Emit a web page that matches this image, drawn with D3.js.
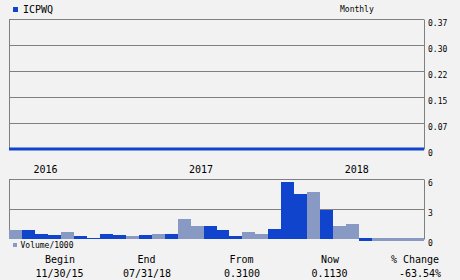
<!DOCTYPE html>
<html>
<head>
<meta charset="utf-8">
<script src="https://cdn.jsdelivr.net/npm/d3@7"></script>
<style>
  body { margin: 0; background: #f2f2f2; }
  svg { display: block; font-family: "DejaVu Sans Mono", monospace; }
</style>
</head>
<body>
<script>
// monthly data, Nov 2015 .. Jun 2018
let months = ['2015-11','2015-12','2016-01','2016-02','2016-03','2016-04','2016-05','2016-06',
              '2016-07','2016-08','2016-09','2016-10','2016-11','2016-12','2017-01','2017-02',
              '2017-03','2017-04','2017-05','2017-06','2017-07','2017-08','2017-09','2017-10',
              '2017-11','2017-12','2018-01','2018-02','2018-03','2018-04','2018-05','2018-06'];
let prices = [0,0,0,0,0,0,0,0, 0,0,0,0,0,0,0,0, 0,0,0,0,0,0,0,0, 0,0,0,0,0,0,0,0];
let volumes = [0.9,0.9,0.5,0.4,0.7,0.3,0.1,0.5, 0.4,0.3,0.4,0.5,0.5,2.0,1.3,1.3,
               0.9,0.3,0.7,0.5,1.0,5.7,4.5,4.7, 2.9,1.3,1.5,0,0,0,0,0];
// 'up' = light bar, 'down' = dark bar
let direction = ['up','down','down','down','up','down','down','down',
                 'down','up','down','up','down','up','up','down',
                 'down','down','up','up','down','down','down','up',
                 'down','up','up','down','up','up','up','up'];

let priceTicks = [0, 0.074, 0.148, 0.222, 0.296, 0.37];
let priceTickLabels = ['0', '0.07', '0.15', '0.22', '0.30', '0.37'];
let volTicks = [0, 3, 6];
let volTickLabels = ['0', '3', '6'];
let yearLabels = ['2016', '2017', '2018'];
let yearMonths = ['2016-01', '2017-01', '2018-01'];

let ticker = 'ICPWQ';
let footerLabels = ['Begin', 'End', 'From', 'Now', '% Change'];
let footerValues = ['11/30/15', '07/31/18', '0.3100', '0.1130', '-63.54%'];

let dark = '#1144cc';
let light = '#8899c4';
let gridColor = '#808080';
let font = '"DejaVu Sans Mono", monospace';

let width = 460, height = 280;
let left = 9, right = 424;

let svg = d3.select('body').append('svg')
    .attr('width', width)
    .attr('height', height);

let xBand = d3.scaleBand().domain(months).range([left, right]).padding(0);
let xLine = d3.scaleLinear().domain([0, months.length - 1]).range([left, right]);

let yPrice = d3.scaleLinear().domain([0, 0.37]).range([149, 19]);
let yVol = d3.scaleLinear().domain([0, 6]).range([239, 179]);

// title
svg.append('rect').attr('x', 13).attr('y', 7).attr('width', 5).attr('height', 5).attr('fill', dark);
svg.append('text').attr('x', 23).attr('y', 13).attr('font-size', 10).text(ticker);
svg.append('text').attr('x', 340).attr('y', 12).attr('font-size', 8).text('Monthly');

//price panel axis + grid
let priceAxis = d3.axisRight(yPrice)
    .tickValues(priceTicks)
    .tickFormat((d, i) => priceTickLabels[i])
    .tickSizeInner(-(right - left))
    .tickSizeOuter(0)
    .tickPadding(4);

let pg = svg.append('g')
    .attr('transform', `translate(${right},0)`)
    .call(priceAxis);
pg.selectAll('line').attr('stroke', gridColor);
pg.select('.domain').attr('stroke', gridColor);
pg.selectAll('text').attr('font-size', 8).attr('font-family', font)
    .attr('dy', '0.75em').attr('fill', '#000');

svg.append('line')
    .attr('x1', left + 0.5).attr('x2', left + 0.5)
    .attr('y1', yPrice(0.37)).attr('y2', yPrice(0))
    .attr('stroke', gridColor);

// price line
let line = d3.line()
    .x((d, i) => xLine(i))
    .y(d => yPrice(d));
svg.append('path')
    .datum(prices)
    .attr('d', line)
    .attr('fill', 'none')
    .attr('stroke', dark)
    .attr('stroke-width', 3);

// year labels
svg.selectAll('.year')
    .data(yearLabels)
    .enter()
    .append('text')
    .attr('class', 'year')
    .attr('x', (d, i) => xBand(yearMonths[i]) + 10.5)
    .attr('y', 173)
    .attr('text-anchor', 'middle')
    .attr('font-size', 10)
    .text(d => d);

//volume panel
let volAxis = d3.axisRight(yVol)
    .tickValues(volTicks)
    .tickFormat((d, i) => volTickLabels[i])
    .tickSizeInner(-(right - left))
    .tickSizeOuter(0)
    .tickPadding(4);

let vg = svg.append('g')
    .attr('transform', `translate(${right},0)`)
    .call(volAxis);
vg.selectAll('line').attr('stroke', gridColor);
vg.selectAll('.tick').filter(d => d === 0).select('line').remove();
vg.select('.domain').attr('stroke', gridColor);
vg.selectAll('text').attr('font-size', 8).attr('font-family', font)
    .attr('dy', '0.75em').attr('fill', '#000');

svg.append('line')
    .attr('x1', left + 0.5).attr('x2', left + 0.5)
    .attr('y1', yVol(6)).attr('y2', yVol(0))
    .attr('stroke', gridColor);

svg.selectAll('.bar')
    .data(volumes)
    .enter()
    .append('rect')
    .attr('class', 'bar')
    .attr('x', (d, i) => xBand(months[i]))
    .attr('width', xBand.bandwidth())
    .attr('y', d => d < 0.05 ? yVol(0) - 1 : yVol(d))
    .attr('height', d => d < 0.05 ? 3 : yVol(0) - yVol(d))
    .attr('fill', (d, i) => direction[i] === 'up' ? light : dark)
    .attr('shape-rendering', 'crispEdges');

// volume legend
svg.append('rect').attr('x', 13).attr('y', 243).attr('width', 4).attr('height', 4).attr('fill', light);
svg.append('text').attr('x', 20.5).attr('y', 247.5).attr('font-size', 8).text('Volume/1000');

// footer
let footerX = [60, 146.5, 241.5, 330, 415];
let footerValX = [59.5, 147, 242, 329.5, 420];
svg.selectAll('.flabel')
    .data(footerLabels)
    .enter()
    .append('text')
    .attr('class', 'flabel')
    .attr('x', (d, i) => footerX[i])
    .attr('y', 263)
    .attr('text-anchor', 'middle')
    .attr('font-size', 10)
    .text(d => d);
svg.selectAll('.fvalue')
    .data(footerValues)
    .enter()
    .append('text')
    .attr('class', 'fvalue')
    .attr('x', (d, i) => footerValX[i])
    .attr('y', 277)
    .attr('text-anchor', 'middle')
    .attr('font-size', 10)
    .text(d => d);
</script>
</body>
</html>
